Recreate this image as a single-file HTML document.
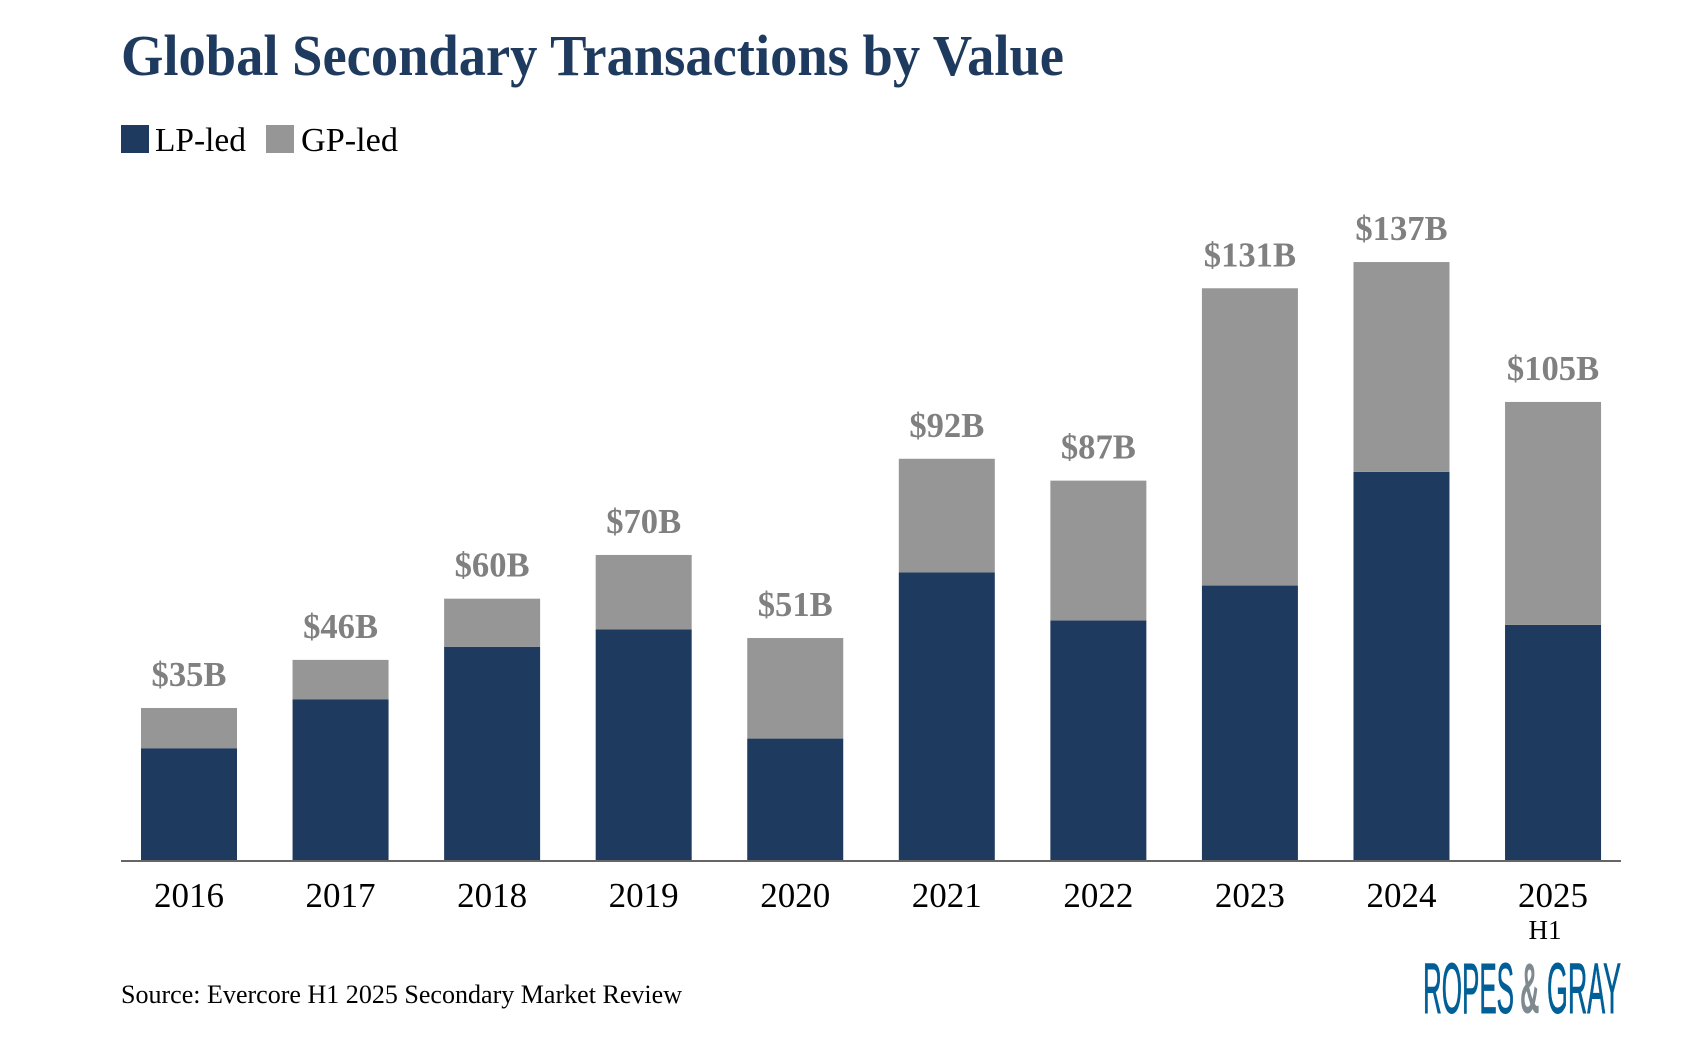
<!DOCTYPE html>
<html lang="en">
<head>
<meta charset="utf-8">
<title>Global Secondary Transactions by Value</title>
<style>
html,body{margin:0;padding:0;background:#fff;width:1686px;height:1062px;overflow:hidden}
svg{display:block}
text{font-family:"Liberation Serif",serif}
</style>
</head>
<body>
<svg id="chart" width="1686" height="1062" viewBox="0 0 1686 1062" xmlns="http://www.w3.org/2000/svg">
  <text x="121" y="75" font-size="58" font-weight="700" fill="#1f3a5f" textLength="943" lengthAdjust="spacingAndGlyphs">Global Secondary Transactions by Value</text>
  <rect x="121" y="125" width="28" height="28" fill="#1f3a5f"/>
  <text x="155" y="151" font-size="34" fill="#000" textLength="91" lengthAdjust="spacingAndGlyphs">LP-led</text>
  <rect x="266" y="125" width="28" height="28" fill="#969696"/>
  <text x="301" y="151" font-size="34" fill="#000" textLength="97" lengthAdjust="spacingAndGlyphs">GP-led</text>
  <g id="marks"></g>
  <rect x="121" y="860" width="1500" height="2" fill="#666"/>
  <g id="labels"></g>
  <text x="1545" y="939" font-size="27" fill="#000" text-anchor="middle">H1</text>
  <text x="121" y="1003" font-size="26" fill="#000" textLength="561" lengthAdjust="spacingAndGlyphs">Source: Evercore H1 2025 Secondary Market Review</text>
  <g>
    <text x="1423" y="1013" font-size="71" fill="#005f96" stroke="#005f96" stroke-width="0.9" textLength="91" lengthAdjust="spacingAndGlyphs" style="font-family:'Liberation Sans',sans-serif">ROPES</text>
    <text transform="translate(1520,1013) scale(0.38,1)" x="0" y="0" font-size="71" font-weight="700" fill="#7f8a90" style="font-family:'Liberation Sans',sans-serif">&amp;</text>
    <text x="1547" y="1013" font-size="71" fill="#005f96" stroke="#005f96" stroke-width="0.9" textLength="74" lengthAdjust="spacingAndGlyphs" style="font-family:'Liberation Sans',sans-serif">GRAY</text>
  </g>
</svg>
<script>
const categories = ["2016","2017","2018","2019","2020","2021","2022","2023","2024","2025"];
const lpValues = [25.8,37,49,53,28,66,55,63,89,54];
const gpValues = [9.2,9,11,17,23,26,32,68,48,51];
const totalLabels = ["$35B","$46B","$60B","$70B","$51B","$92B","$87B","$131B","$137B","$105B"];

const SVG_NS = "http://www.w3.org/2000/svg";
const baseY = 861, pxPerUnit = 4.372, firstCenter = 189, step = 151.56, barWidth = 96;
function xCenter(i){ return firstCenter + i * step; }
function yPos(v){ return baseY - v * pxPerUnit; }

const marks = document.getElementById("marks");
const labels = document.getElementById("labels");

categories.forEach(function(cat, i){
  const cx = xCenter(i);
  const lp = lpValues[i], gp = gpValues[i];

  const lpBar = document.createElementNS(SVG_NS, "rect");
  lpBar.setAttribute("x", cx - barWidth / 2);
  lpBar.setAttribute("y", yPos(lp));
  lpBar.setAttribute("width", barWidth);
  lpBar.setAttribute("height", yPos(0) - yPos(lp));
  lpBar.setAttribute("fill", "#1f3a5f");
  
  
  marks.appendChild(lpBar);

  const gpBar = document.createElementNS(SVG_NS, "rect");
  gpBar.setAttribute("x", cx - barWidth / 2);
  gpBar.setAttribute("y", yPos(lp + gp));
  gpBar.setAttribute("width", barWidth);
  gpBar.setAttribute("height", yPos(lp) - yPos(lp + gp));
  gpBar.setAttribute("fill", "#969696");
  
  
  marks.appendChild(gpBar);

  const total = document.createElementNS(SVG_NS, "text");
  total.setAttribute("x", cx);
  total.setAttribute("y", yPos(lp + gp) - 22);
  total.setAttribute("font-size", "34.6");
  total.setAttribute("font-weight", "700");
  total.setAttribute("fill", "#808080");
  total.setAttribute("text-anchor", "middle");
  
  
  total.textContent = totalLabels[i];
  labels.appendChild(total);

  const tick = document.createElementNS(SVG_NS, "text");
  tick.setAttribute("x", cx);
  tick.setAttribute("y", 907);
  tick.setAttribute("font-size", "35");
  tick.setAttribute("fill", "#000");
  tick.setAttribute("text-anchor", "middle");
  
  
  tick.textContent = cat;
  labels.appendChild(tick);
});
</script>
</body>
</html>
